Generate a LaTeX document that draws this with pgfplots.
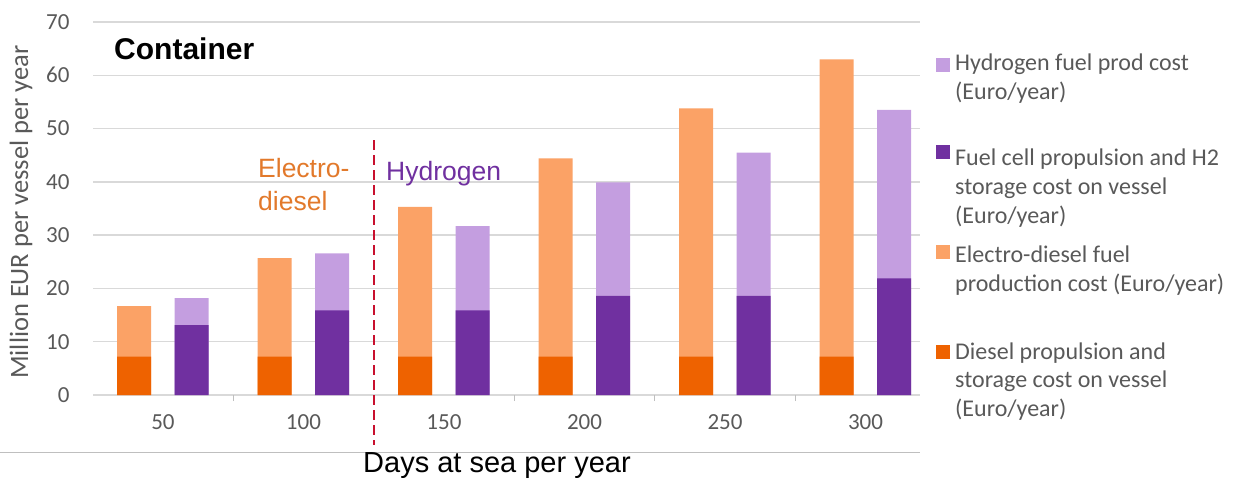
\documentclass[border=0pt]{standalone}
\usepackage{pgfplots}
\pgfplotsset{compat=1.18}
\usepackage{pgfplotstable}
\usepackage{fontspec}
\setmainfont{Carlito}
\newfontfamily\arialfont{Liberation Sans}

\definecolor{dieselDark}{HTML}{EE6200}
\definecolor{edLight}{HTML}{FBA266}
\definecolor{fcDark}{HTML}{7030A0}
\definecolor{h2Light}{HTML}{C49EE0}
\definecolor{gridgray}{HTML}{D9D9D9}
\definecolor{axisgray}{HTML}{BFBFBF}
\definecolor{textgray}{HTML}{595959}
\definecolor{edText}{HTML}{E2792B}
\definecolor{divider}{HTML}{C8102E}

% Annual cost per vessel, million EUR
% diesel   = diesel propulsion and storage on vessel
% edtotal  = diesel + electro-diesel fuel production
% fuelcell = fuel cell propulsion and H2 storage on vessel
% h2total  = fuel cell + hydrogen fuel production
\pgfplotstableread{
idx days diesel edtotal fuelcell h2total
0   50   7.2    16.7    13.1     18.2
1   100  7.2    25.7    15.9     26.6
2   150  7.2    35.3    15.9     31.7
3   200  7.2    44.4    18.6     39.9
4   250  7.2    53.8    18.6     45.5
5   300  7.2    63.0    21.9     53.5
}\costs

\begin{document}
\begin{tikzpicture}
\path[use as bounding box] (0pt,0pt) rectangle (1238pt,480pt);
\begin{axis}[
  at={(93pt,85pt)}, anchor=south west,
  scale only axis, width=827pt, height=373pt,
  xmin=-0.498, xmax=5.388, ymin=0, ymax=70,
  clip=false,
  ybar, bar width=0.242,
  axis line style={draw=none},
  ytick={0,10,...,70},
  ymajorgrids, grid style={gridgray, line width=1.5pt},
  xtick={0,...,5}, xticklabels={50,100,150,200,250,300},
  minor xtick={0.5,1.5,2.5,3.5,4.5},
  xtick pos=bottom, ytick pos=left,
  tick align=outside,
  major tick length=0pt, minor tick length=6pt,
  minor tick style={axisgray, line width=1pt},
  /pgf/number format/assume math mode=true,
  ticklabel style={font=\fontsize{23}{23}\selectfont, text=textgray},
  yticklabel style={anchor=east, xshift=-20pt},
  xticklabel style={yshift=-16pt},
]
\addplot[fill=edLight, draw=none, bar shift=-0.206] table[x=idx, y=edtotal] {\costs};
\addplot[fill=dieselDark, draw=none, bar shift=-0.206] table[x=idx, y=diesel] {\costs};
\addplot[fill=h2Light, draw=none, bar shift=0.204] table[x=idx, y=h2total] {\costs};
\addplot[fill=fcDark, draw=none, bar shift=0.204] table[x=idx, y=fuelcell] {\costs};
% boundary between the electro-diesel and hydrogen regimes
\draw[divider, line width=2pt, dash pattern=on 10pt off 5pt] (axis cs:1.5,47.8) -- (axis cs:1.5,-9.4);
\end{axis}

% x axis rule under the chart
\draw[axisgray, line width=1pt] (0pt,28pt) -- (920pt,28pt);

% titles and labels
\node[anchor=west, inner sep=0pt, font=\arialfont\bfseries\fontsize{30}{30}\selectfont] at (114pt,431pt) {Container};
\node[rotate=90, inner sep=0pt, text=textgray, font=\fontsize{26.5}{26.5}\selectfont] at (21pt,268pt) {Million EUR per vessel per year};
\node[inner sep=0pt, font=\arialfont\fontsize{29}{29}\selectfont] at (497pt,14pt) {Days at sea per year};

\node[anchor=base west, inner sep=0pt, text=edText, font=\arialfont\fontsize{26.5}{26.5}\selectfont] at (258pt,302pt) {Electro-};
\node[anchor=base west, inner sep=0pt, text=edText, font=\arialfont\fontsize{26.5}{26.5}\selectfont] at (258pt,270pt) {diesel};
\node[anchor=base west, inner sep=0pt, text=fcDark, font=\arialfont\fontsize{26.5}{26.5}\selectfont] at (386pt,300pt) {Hydrogen};

% legend
\begin{scope}[every node/.style={anchor=base west, inner sep=0pt, text=textgray, font=\fontsize{24}{24}\selectfont}]
\fill[h2Light] (936pt,408pt) rectangle ++(14pt,14pt);
\node at (955pt,409pt) {Hydrogen fuel prod cost};
\node at (955pt,380pt) {(Euro/year)};
\fill[fcDark] (936pt,321pt) rectangle ++(14pt,14pt);
\node at (955pt,315pt) {Fuel cell propulsion and H2};
\node at (955pt,286pt) {storage cost on vessel};
\node at (955pt,257pt) {(Euro/year)};
\fill[edLight] (936pt,221pt) rectangle ++(14pt,14pt);
\node at (955pt,218pt) {Electro-diesel fuel};
\node at (955pt,189pt) {production cost (Euro/year)};
\fill[dieselDark] (936pt,121pt) rectangle ++(14pt,14pt);
\node at (955pt,121pt) {Diesel propulsion and};
\node at (955pt,93pt) {storage cost on vessel};
\node at (955pt,64pt) {(Euro/year)};
\end{scope}
\end{tikzpicture}
\end{document}
